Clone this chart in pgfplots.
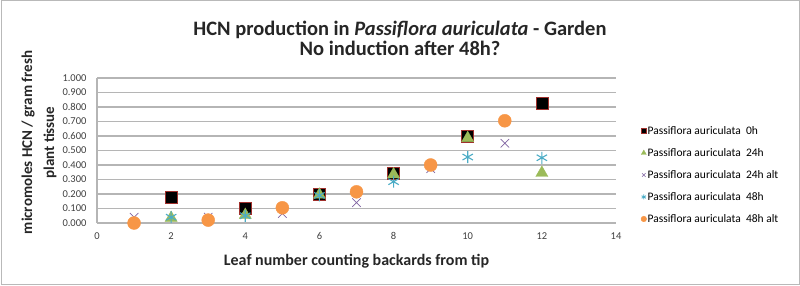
\documentclass[border=0pt]{standalone}
\usepackage{fontspec}
\setmainfont{Carlito}
\usepackage{pgfplots}
\pgfplotsset{compat=1.18}
\definecolor{sqedge}{HTML}{A0302C}
\definecolor{tri}{HTML}{9BBB59}
\definecolor{crs}{HTML}{8064A2}
\definecolor{ast}{HTML}{4BACC6}
\definecolor{circ}{HTML}{F79646}
\definecolor{gridc}{HTML}{B5B5B5}
\definecolor{ticktxt}{HTML}{404040}
\begin{document}
\begin{tikzpicture}
\path[use as bounding box] (0pt,0pt) rectangle (800pt,285pt);
\draw[gray!55, line width=1pt] (1pt,0.5pt) rectangle (799pt,284.5pt);
\begin{axis}[
  at={(97pt,62pt)}, anchor=south west,
  scale only axis, width=519pt, height=145pt,
  xmin=0, xmax=14, ymin=0, ymax=1,
  xtick={0,2,...,14}, ytick={0,0.1,...,1},
  ymajorgrids, grid style={gridc, line width=1.2pt},
  separate axis lines,
  axis x line*=bottom, axis y line*=left,
  axis line style={gridc, line width=1.2pt, -},
  major tick length=0pt,
  /pgf/number format/assume math mode=true,
  tick label style={font=\fontsize{10.5}{12}\selectfont, text=ticktxt},
  yticklabel style={/pgf/number format/fixed, /pgf/number format/fixed zerofill, /pgf/number format/precision=3, xshift=-7pt},
  xticklabel style={yshift=-6pt},
  clip=false,
  legend style={at={(1.042,0.331)}, anchor=west, draw=none, fill=none,
    font=\fontsize{11.5}{13}\selectfont, row sep=10.5pt, nodes={inner sep=1pt}},
  legend cell align=left,
  legend image code/.code={\draw[mark repeat=2,mark phase=2,#1] plot coordinates {(0pt,0pt) (4pt,0pt) (8pt,0pt)};},
]
% 0h
\addplot[forget plot, only marks, mark=square*, mark size=6pt, draw=sqedge, fill=black, line width=0.6pt]
  coordinates {(2,0.175) (4,0.10) (6,0.195) (8,0.34) (10,0.60) (12,0.825)};
% 24h
\addplot[forget plot, only marks, mark=triangle*, mark size=7pt, draw=tri, fill=tri]
  coordinates {(2,0.035) (4,0.055) (6,0.195) (8,0.335) (10,0.585) (12,0.345)};
% 24h alt
\addplot[forget plot, only marks, mark=x, mark size=6pt, draw=crs, line width=0.7pt]
  coordinates {(1,0.04) (3,0.04) (5,0.065) (7,0.14) (9,0.375) (11,0.55)};
% 48h
\addplot[forget plot, only marks, mark=asterisk, mark size=6pt, draw=ast, line width=1.1pt]
  coordinates {(2,0.04) (4,0.05) (6,0.19) (8,0.285) (10,0.455) (12,0.45)};
% 48h alt
\addplot[forget plot, only marks, mark=*, mark size=6.5pt, draw=circ, fill=circ]
  coordinates {(1,0.0) (3,0.02) (5,0.105) (7,0.215) (9,0.40) (11,0.705)};
\addlegendimage{only marks, mark=square*, mark size=2.4pt, draw=sqedge, fill=black}
\addlegendentry{Passiflora auriculata\ \ 0h}
\addlegendimage{only marks, mark=triangle*, mark size=2.9pt, draw=tri, fill=tri}
\addlegendentry{Passiflora auriculata\ \ 24h}
\addlegendimage{only marks, mark=x, mark size=2.5pt, draw=crs, line width=0.6pt}
\addlegendentry{Passiflora auriculata\ \ 24h alt}
\addlegendimage{only marks, mark=asterisk, mark size=2.5pt, draw=ast, line width=0.8pt}
\addlegendentry{Passiflora auriculata\ \ 48h}
\addlegendimage{only marks, mark=*, mark size=2.8pt, draw=circ, fill=circ}
\addlegendentry{Passiflora auriculata\ \ 48h alt}
\end{axis}
\node[align=center, font=\bfseries\fontsize{20.5}{20}\selectfont, text=black!85] at (400pt,247pt)
  {HCN production in \textit{Passiflora auriculata} - Garden\\No induction after 48h?};
\node[rotate=90, align=center, font=\bfseries\fontsize{15}{22}\selectfont, text=black!85] at (39pt,142.5pt)
  {micromoles HCN / gram fresh\\plant tissue};
\node[font=\bfseries\fontsize{16}{18}\selectfont, text=black!85] at (356.5pt,24pt)
  {Leaf number counting backards from tip};
\end{tikzpicture}
\end{document}
